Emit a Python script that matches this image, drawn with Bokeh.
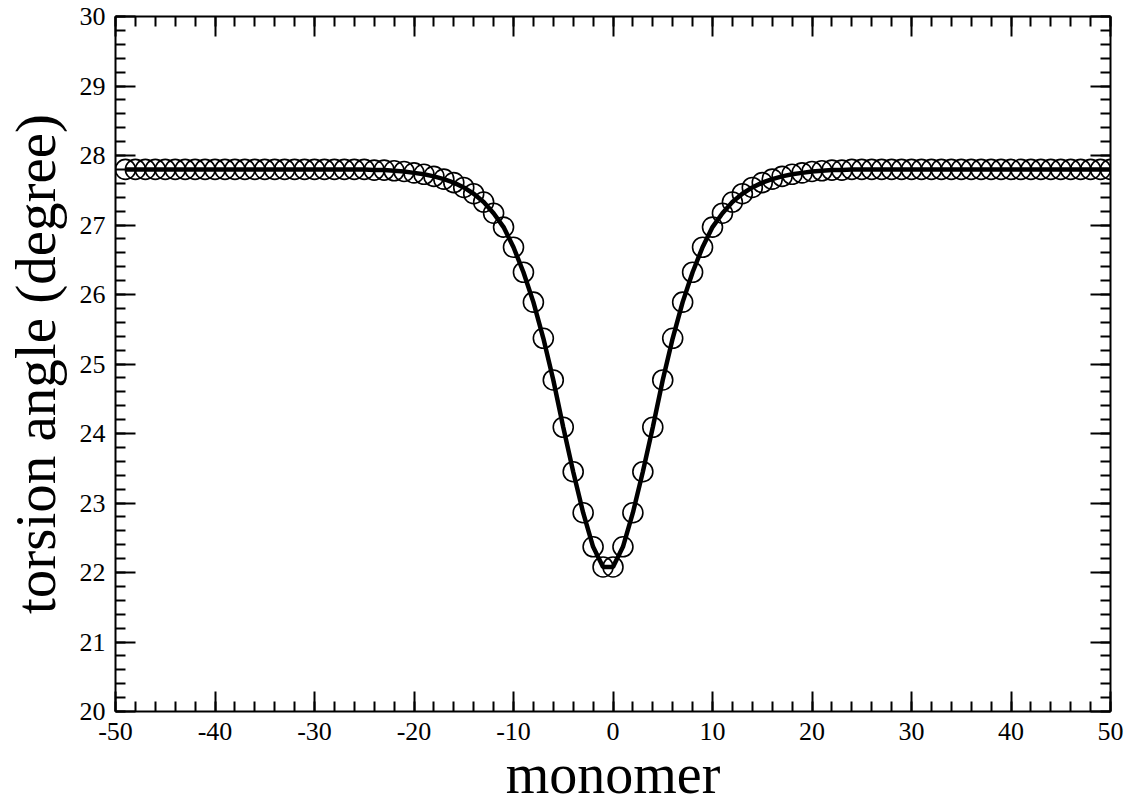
from bokeh.plotting import figure
from bokeh.models import LinearAxis, FixedTicker, Range1d
from bokeh.embed import file_html
from bokeh.resources import INLINE

# ---- data -------------------------------------------------------------
monomer = list(range(-49, 51))
torsion = [
    27.80, 27.80, 27.80, 27.80, 27.80, 27.80, 27.80, 27.80, 27.80, 27.80,   # -49..-40
    27.80, 27.80, 27.80, 27.80, 27.80, 27.80, 27.80, 27.80, 27.80, 27.80,   # -39..-30
    27.80, 27.80, 27.80, 27.80, 27.80, 27.79, 27.79,                        # -29..-23
    27.78, 27.77, 27.75, 27.73, 27.70, 27.66, 27.61, 27.54, 27.45, 27.33,   # -22..-13
    27.17, 26.97, 26.68, 26.32, 25.89, 25.37, 24.77, 24.09, 23.45, 22.86,   # -12..-3
    22.37, 22.08,                                                           # -2..-1
    22.08, 22.37, 22.86, 23.45, 24.09, 24.77, 25.37, 25.89, 26.32, 26.68,   # 0..9
    26.97, 27.17, 27.33, 27.45, 27.54, 27.61, 27.66, 27.70, 27.73, 27.75,   # 10..19
    27.77, 27.78, 27.79, 27.79, 27.80, 27.80, 27.80, 27.80, 27.80, 27.80,   # 20..29
    27.80, 27.80, 27.80, 27.80, 27.80, 27.80, 27.80, 27.80, 27.80, 27.80,   # 30..39
    27.80, 27.80, 27.80, 27.80, 27.80, 27.80, 27.80, 27.80, 27.80, 27.80,   # 40..49
    27.80,                                                                  # 50
]
x_major = [-50, -40, -30, -20, -10, 0, 10, 20, 30, 40, 50]
x_major_labels = ["-50", "-40", "-30", "-20", "-10", "0", "10", "20", "30", "40", "50"]
x_minor = list(range(-50, 51, 2))
y_major = [20, 21, 22, 23, 24, 25, 26, 27, 28, 29, 30]
y_major_labels = ["20", "21", "22", "23", "24", "25", "26", "27", "28", "29", "30"]
y_minor = [round(20 + 0.2 * i, 1) for i in range(51)]
x_label = "monomer"
y_label = "torsion angle (degree)"

FONT = "Liberation Serif"

p = figure(width=1128, height=807, output_backend="svg", toolbar_location=None,
           x_range=Range1d(-50, 50), y_range=Range1d(20, 30),
           min_border_left=115, min_border_right=18, min_border_top=16,
           min_border_bottom=94, background_fill_color="white",
           border_fill_color="white")
p.outline_line_color = None
p.xgrid.visible = False
p.ygrid.visible = False


def style_axis(ax, ticks, minor, labels=None, standoff=8):
    ax.ticker = FixedTicker(ticks=ticks, minor_ticks=minor)
    ax.axis_line_color = "black"
    ax.axis_line_width = 2
    ax.major_tick_line_color = "black"
    ax.major_tick_line_width = 2
    ax.minor_tick_line_color = "black"
    ax.minor_tick_line_width = 2
    ax.major_tick_in = 20
    ax.major_tick_out = 0
    ax.minor_tick_in = 10
    ax.minor_tick_out = 0
    if labels is not None:
        ax.major_label_text_font = FONT
        ax.major_label_text_font_size = "26px"
        ax.major_label_text_color = "black"
        ax.major_label_standoff = standoff
        ax.major_label_overrides = {t: s for t, s in zip(ticks, labels)}
    else:
        ax.major_label_text_font_size = "0px"
        ax.major_label_standoff = 0
        ax.major_label_overrides = {t: "" for t in ticks}


style_axis(p.xaxis[0], x_major, x_minor, x_major_labels, 11)
style_axis(p.yaxis[0], y_major, y_minor, y_major_labels, 10)

for ax, lab, size, stand in ((p.xaxis[0], x_label, "56px", 0),
                             (p.yaxis[0], y_label, "57px", 10)):
    ax.axis_label = lab
    ax.axis_label_text_font = FONT
    ax.axis_label_text_font_size = size
    ax.axis_label_text_font_style = "normal"
    ax.axis_label_text_color = "black"
    ax.axis_label_standoff = stand

top = LinearAxis()
style_axis(top, x_major, x_minor)
p.add_layout(top, "above")
right = LinearAxis()
style_axis(right, y_major, y_minor)
p.add_layout(right, "right")

p.scatter(monomer, torsion, marker="circle", size=20, fill_color=None,
          line_color="black", line_width=1.6)
p.line(monomer, torsion, line_color="black", line_width=4.5)

open("out.html", "w").write(file_html(p, INLINE))
